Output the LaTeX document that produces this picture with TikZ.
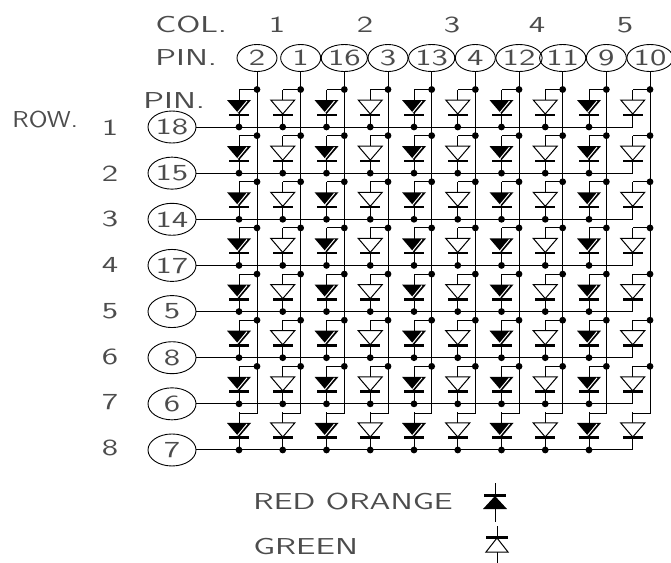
\documentclass[tikz,border=0pt]{standalone}
\usepackage{fontspec}
\usepackage{graphicx}
\newfontfamily\cadfont[FakeStretch=1.45]{Latin Modern Sans}
\usetikzlibrary{shapes.geometric}
\tikzset{
  lbl/.style={inner sep=0pt,font=\cadfont\fontsize{11.5}{12}\selectfont,text=black!70},
  colpin/.style={lbl,draw,ellipse,line width=0.45pt,minimum width=20pt,minimum height=13.5pt},
  rowpin/.style={lbl,draw,ellipse,line width=0.45pt,minimum width=24pt,minimum height=16pt},
  wire/.style={line width=0.5pt},
  dot/.style={circle,fill=black,inner sep=0pt,minimum size=3.4pt},
  redled/.pic={
    \fill[black](-12,-14)--(12,-14)--(0,0)--cycle;
    \draw[white,line width=0.5pt](8,-13)--(-1.5,-1.5);
    \fill[black](-10,-0.5)rectangle(10,2);},
  greenled/.pic={
    \filldraw[wire,fill=white](-12,-14)--(12,-14)--(0,0)--cycle;
    \fill[black](-10,-0.5)rectangle(10,2);}
}
\begin{document}
\begin{tikzpicture}[x=0.5pt,y=-0.5pt]
\useasboundingbox(0,0)rectangle(671,563);
% Titres
\node[lbl,anchor=west](coltitle)at(155,25){COL.};
\node[lbl,anchor=west](pintitle)at(155,58){PIN.};
\node[lbl,anchor=west](rowpintitle)at(143,101){PIN.};
\node[lbl,anchor=west](rowtitle)at(12,120){\scalebox{0.78}[1]{ROW.}};
\foreach \n/\x in {1/277,2/365,3/452,4/537,5/625}
  \node[lbl](cnum\n)at(\x,25){\n};
% Broches colonnes
\foreach \j/\p in {1/2,2/1,3/16,4/3,5/13,6/4,7/12,8/11,9/9,10/10}{
  \pgfmathsetmacro{\xw}{257+43.67*(\j-1)}
  \node[colpin](c\j)at(\xw,58){\p};
}
% Broches lignes
\foreach \i/\p in {1/18,2/15,3/14,4/17,5/5,6/8,7/6,8/7}{
  \pgfmathsetmacro{\yw}{127+46.14*(\i-1)}
  \pgfmathsetmacro{\yn}{128+45.7*(\i-1)}
  \node[rowpin](r\i)at(172,\yw){\p};
  \node[lbl](rnum\i)at(110,\yn){\i};
}
% Matrice
\foreach \j in {1,...,10}{
  \pgfmathsetmacro{\xw}{257+43.67*(\j-1)}
  \pgfmathsetmacro{\xd}{239+43.75*(\j-1)}
  \coordinate(cend\j)at(\xw,413);
  \coordinate(lend\j)at(\xd,413);
  \draw[wire](c\j.south)--(cend\j)--(lend\j);
  \foreach \i in {1,...,8}{
    \pgfmathsetmacro{\yw}{127+46.14*(\i-1)}
    \coordinate(w\i-\j)at(\xd,\yw);
    \coordinate(a\i-\j)at(\xd,\yw-37.5);
    \coordinate(b\i-\j)at(\xd,\yw-13);
    \draw[wire](w\i-\j)--(a\i-\j);
    \ifnum\i<8
      \draw[wire](a\i-\j)--(c\j.south|-a\i-\j);
      \node[dot](jc\i-\j)at(c\j.south|-a\i-\j){};
    \fi
    \ifodd\j
      \pic at(b\i-\j){redled};
    \else
      \pic at(b\i-\j){greenled};
    \fi
    \ifnum\j<10
      \node[dot](jr\i-\j)at(w\i-\j){};
    \fi
  }
}
\foreach \i in {1,...,8}
  \draw[wire](r\i.east)--(w\i-10);
% Legende
\node[lbl,anchor=west](redtxt)at(253,502){\scalebox{0.97}[1]{RED ORANGE}};
\node[lbl,anchor=west](greentxt)at(253,547){GREEN};
\coordinate(redtop)at(495,483);
\coordinate(redbot)at(495,522);
\coordinate(greentop)at(497,526);
\coordinate(greenbot)at(497,563);
\draw[wire](redtop)--(redbot);
\fill[black](483,509)--(507,509)--(495,496)--cycle;
\fill[black](484,494)rectangle(506,496.5);
\draw[wire](greentop)--(greenbot);
\draw[wire,fill=white](486,552)--(508,552)--(497,538)--cycle;
\fill[black](486,536)rectangle(508,538.5);
\end{tikzpicture}
\end{document}
